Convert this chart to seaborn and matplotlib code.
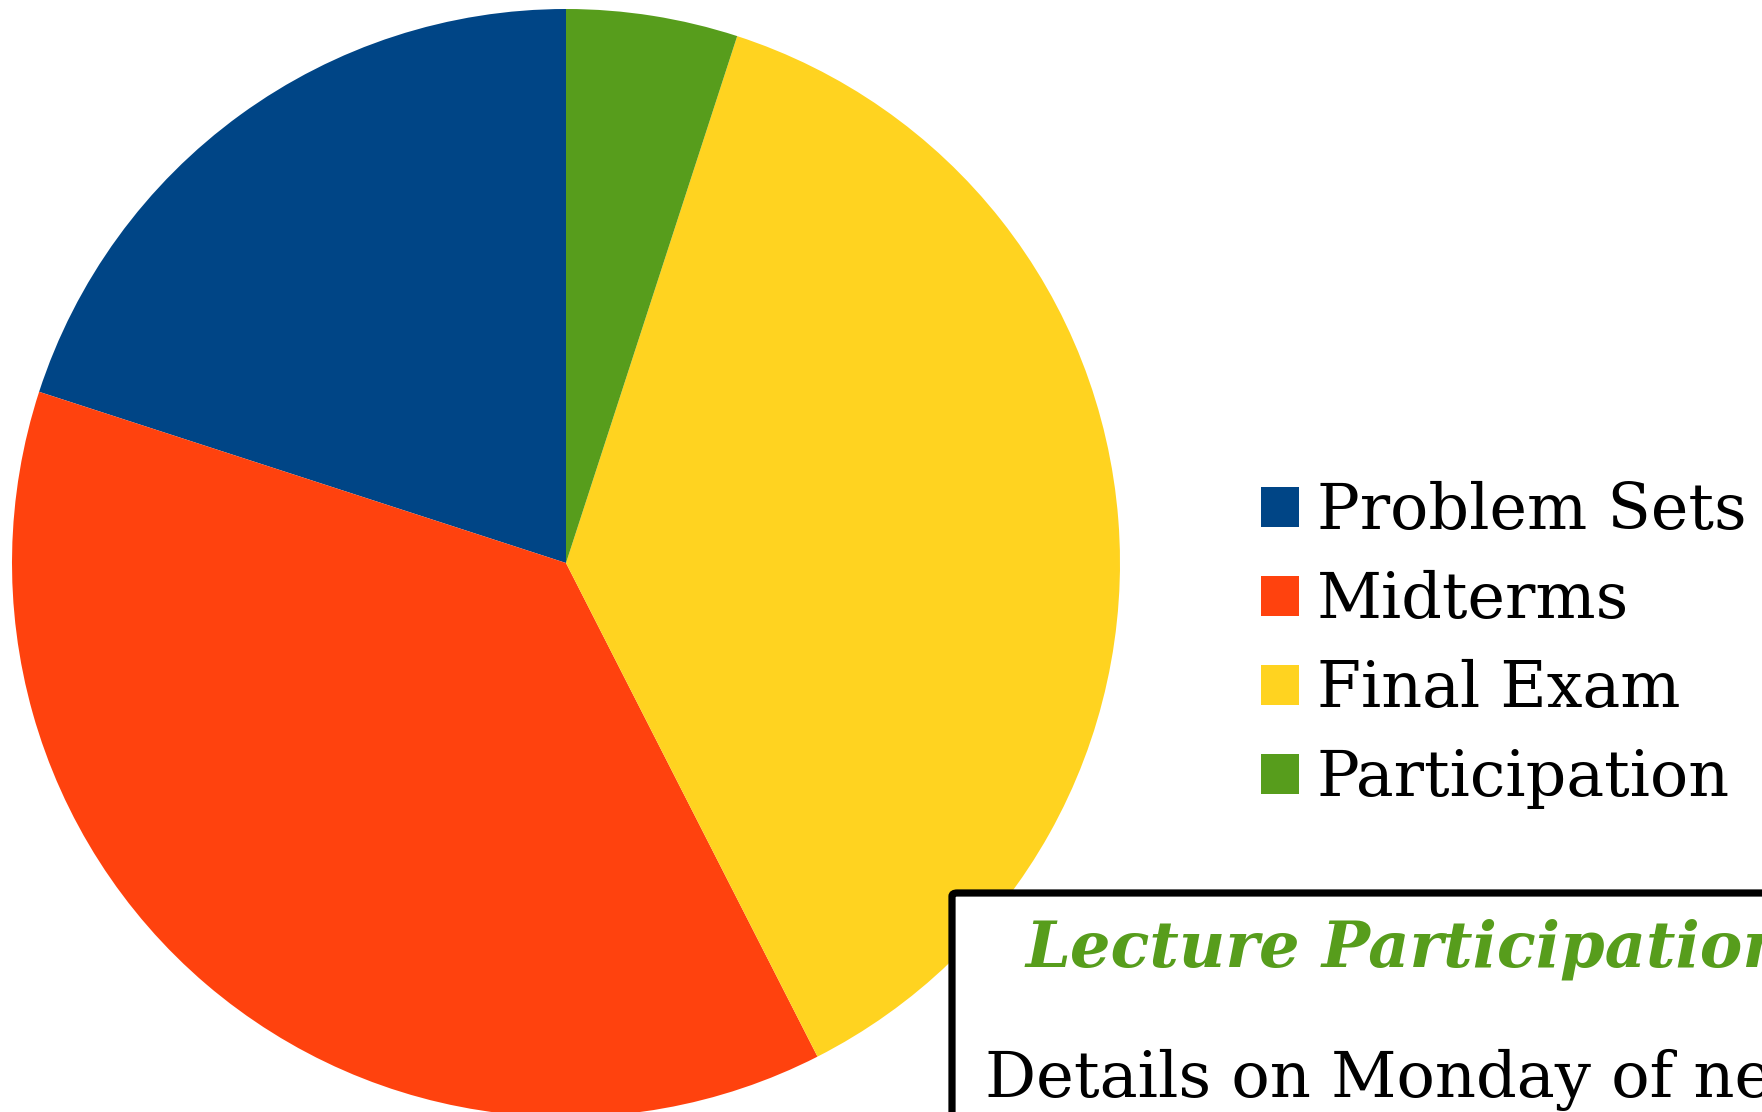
import numpy as np
import pandas as pd
import seaborn as sns
import matplotlib.pyplot as plt
from matplotlib.patches import FancyBboxPatch

# grade breakdown (percent)
components = ["Problem Sets", "Midterms", "Final Exam", "Participation"]
weights = [20, 37.5, 37.5, 5]
slice_colours = ["#004586", "#ff420e", "#ffd320", "#579d1c"]

note_title = "Lecture Participation"
note_text = "Details on Monday of next week"

sns.set_style("white")
plt.rcParams['font.family'] = ['DejaVu Serif']
plt.rcParams['text.color'] = 'black'

W, H = 1762, 1112
fig = plt.figure(figsize=(W / 100, H / 100), dpi=100)

# pie axes, square in pixels (centre ~ (566, 563), radius ~554)
cx, cy, r = 566, 563, 554
ax = fig.add_axes([(cx - r) / W, (H - cy - r) / H, 2 * r / W, 2 * r / H])
wedges, _ = ax.pie(weights, colors=sns.color_palette(slice_colours), startangle=90,
                   counterclock=True, radius=1, wedgeprops=dict(linewidth=0))
ax.set_xlim(-1, 1)
ax.set_ylim(-1, 1)
ax.set_axis_off()

fs = 45.7
fig.legend(wedges, components, loc="upper left", bbox_to_anchor=(1261 / W, 1 - 481 / H),
           frameon=False, fontsize=fs, handlelength=0.6, handleheight=0.6,
           handletextpad=0.28, labelspacing=0.44, borderaxespad=0, borderpad=0,
           labelcolor="black")

# note box in lower right (runs off the page)
box = FancyBboxPatch((952 / W, -30 / H), 900 / W, (H - 893 + 30) / H,
                     boxstyle="round,pad=0,rounding_size=0.003",
                     transform=fig.transFigure, facecolor="white",
                     edgecolor="black", linewidth=5.2, zorder=5)
fig.patches.append(box)
fig.text(1025 / W, 1 - 967 / H, note_title, color="#579d1c", fontsize=46,
         fontweight="bold", fontstyle="italic", ha="left", va="baseline", zorder=6)
fig.text(985 / W, 1 - 1097 / H, note_text, color="black", fontsize=46,
         ha="left", va="baseline", zorder=6)

fig.savefig("out.png", dpi=100)
